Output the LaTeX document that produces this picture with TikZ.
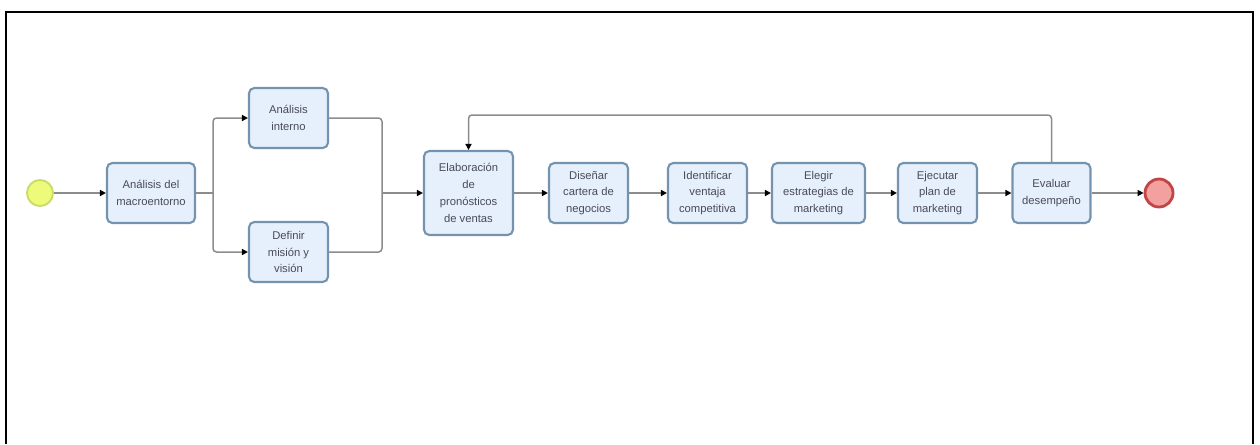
\documentclass[tikz,border=0pt]{standalone}
\usepackage{fontspec}
\setmainfont{Liberation Sans}
\usetikzlibrary{arrows.meta}
\definecolor{taskfill}{HTML}{E6F0FC}
\definecolor{taskline}{HTML}{7393AE}
\definecolor{flowline}{HTML}{8C8C8C}
\definecolor{txt}{HTML}{4A4A58}
\definecolor{startfill}{HTML}{EEFA7A}
\definecolor{startline}{HTML}{C9DD66}
\definecolor{endfill}{HTML}{F2A0A0}
\definecolor{endline}{HTML}{C24545}
\tikzset{
  task/.style={draw=taskline, fill=taskfill, line width=1.2pt, rounded corners=3pt,
    minimum width=1.58cm, minimum height=1.2cm, inner sep=1pt,
    align=center, text=txt, font=\fontsize{6.4}{9.6}\selectfont},
  startev/.style={circle, draw=startline, fill=startfill, line width=1.1pt, minimum size=0.52cm, inner sep=0pt},
  endev/.style={circle, draw=endline, fill=endfill, line width=1.6pt, minimum size=0.56cm, inner sep=0pt},
  flow/.style={draw=flowline, line width=0.85pt, rounded corners=2pt,
    -{Triangle[length=1.2mm, width=1.2mm, color=black]}},
  plainflow/.style={draw=flowline, line width=0.85pt, rounded corners=2pt},
  frame/.style={draw=black, line width=1.6pt}
}
\begin{document}
\begin{tikzpicture}[x=0.02cm, y=-0.02cm]
\useasboundingbox (0,0) rectangle (1260,444);
% outer frame (open at the bottom)
\draw[frame] (6,444) -- (6,12) -- (1253,12) -- (1253,444);

% events
\node[startev] (start) at (40,193) {};
\node[endev] (end) at (1159,193) {};

% tasks
\node[task, minimum width=1.76cm] (macro) at (151,193) {Análisis del\\macroentorno};
\node[task] (interno) at (288.5,118) {Análisis\\interno};
\node[task] (mision) at (288.5,252) {Definir\\misión y\\visión};
\node[task, minimum width=1.78cm, minimum height=1.68cm] (elab) at (468.5,193) {Elaboración\\de\\pronósticos\\de ventas};
\node[task] (disenar) at (588.5,193) {Diseñar\\cartera de\\negocios};
\node[task] (ident) at (707.5,193) {Identificar\\ventaja\\competitiva};
\node[task, minimum width=1.86cm] (elegir) at (818.5,193) {Elegir\\estrategias de\\marketing};
\node[task] (ejecutar) at (937.5,193) {Ejecutar\\plan de\\marketing};
\node[task, minimum width=1.56cm] (evaluar) at (1051.5,193) {Evaluar\\desempeño};

% branching points
\coordinate (split) at (213,193);
\coordinate (join) at (382,193);
\coordinate (loopR) at (1051.5,115);
\coordinate (loopL) at (468.5,115);

% connectors
\draw[flow] (start) -- (macro);
\draw[plainflow] (macro.east) -- (split);
\draw[flow] (split) |- (interno.west);
\draw[flow] (split) |- (mision.west);
\draw[plainflow] (interno.east) -| (join);
\draw[plainflow] (mision.east) -| (join);
\draw[flow] (join) -- (elab.west);
\draw[flow] (elab) -- (disenar);
\draw[flow] (disenar) -- (ident);
\draw[flow] (ident) -- (elegir);
\draw[flow] (elegir) -- (ejecutar);
\draw[flow] (ejecutar) -- (evaluar);
\draw[flow] (evaluar) -- (end);
\draw[flow] (evaluar.north) -- (loopR) -- (loopL) -- (elab.north);
\end{tikzpicture}
\end{document}
